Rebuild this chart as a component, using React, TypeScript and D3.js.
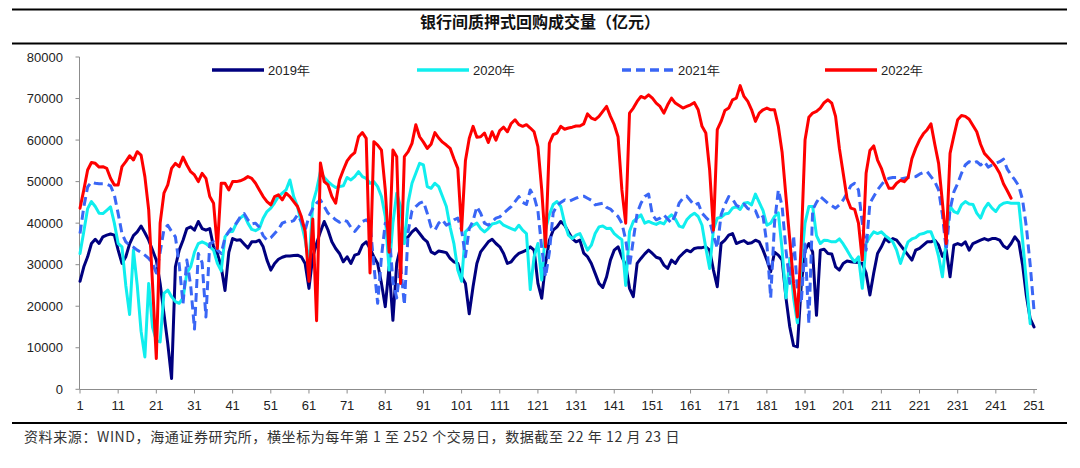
import { useMemo } from 'react';
import * as d3 from 'd3';

// 银行间质押式回购成交量（亿元）, 每年第 1 至 252 个交易日
const years = ['2019年', '2020年', '2021年', '2022年'];

const vol2019 = [
  26000, 29500, 31900, 35100, 36100, 35100, 36700, 37100, 37400, 37100,
  33500, 30300, 31900, 35000, 37000, 37900, 39300, 37700, 35900, 33500,
  31100, 25500, 18200, 11000, 2600, 29500, 33500, 35900, 38700, 39100,
  38300, 40400, 38700, 38300, 38700, 34300, 32700, 29500, 23800, 33000,
  36300, 35900, 36000, 35000, 34000, 35500, 35500, 35900, 34300, 31100,
  28700, 30300, 31300, 31800, 32100, 32100, 32200, 32300, 31900, 30300,
  24300, 31900, 35100, 37900, 40400, 38300, 35500, 33900, 32700, 30700,
  31900, 30300, 32300, 32600, 34700, 35500, 33900, 31900, 30300, 25500,
  19900, 29500, 16600, 30300, 34300, 36300, 36700, 37900, 38700, 37500,
  36300, 35500, 33100, 32600, 33300, 33100, 32900, 31500, 30700, 30300,
  27100, 25500, 18200, 24700, 30300, 33100, 34300, 35500, 36100, 35100,
  34300, 32700, 30300, 30700, 31900, 32700, 33100, 33500, 34300, 33500,
  25500, 21900, 30300, 35900, 38300, 39100, 40400, 39500, 37900, 36300,
  35500, 35900, 32800, 31900, 30300, 27900, 25500, 24500, 27100, 31100,
  33500, 34300, 31900, 29900, 24300, 22300, 30300, 31500, 32600, 33500,
  32700, 31800, 31500, 29900, 29100, 31100, 30300, 31800, 32700, 33500,
  33100, 33900, 34100, 34100, 34300, 33500, 28700, 24700, 35100, 35900,
  37100, 37500, 35100, 35500, 35800, 35100, 35300, 35900, 35500, 33500,
  31100, 28300, 33000, 32300, 31100, 22000, 15000, 10500, 10200, 25000,
  33500, 35100, 33000, 17800, 33500, 33700, 32700, 32600, 29500, 28700,
  30300, 30900, 30700, 30600, 30500, 30300, 28000, 22700, 28000, 32700,
  34300, 36300, 35500, 36300, 35900, 34700, 33500, 32300, 31100, 33500,
  33900, 34700, 35500, 35500, 35900, 34700, 32000, 33500, 27100, 34700,
  35100, 34700, 35500, 33500, 35100, 35500, 35900, 36300, 35900, 36300,
  36300, 35900, 34500, 33900, 35100, 36700, 35500, 30000, 22500, 17000,
  15000,
];

const vol2020 = [
  32700, 38000, 43500, 45200, 44000, 42400, 42300, 43100, 43900, 40000,
  35100, 34300, 25000, 18000, 33500, 25000, 14000, 7800, 25500, 15000,
  11800, 11400, 23100, 23900, 22300, 21100, 20700, 22000, 28000, 29500,
  33000, 35100, 35500, 35100, 34300, 33500, 30300, 28500, 36700, 37900,
  38000, 40000, 41200, 42000, 40000, 38500, 38200, 38700, 41200, 42800,
  43600, 44900, 46400, 47200, 48000, 50400, 46400, 44000, 40000, 36000,
  30000, 44800, 48000, 52400, 51000, 50000, 49200, 48600, 48800, 49000,
  51000, 50400, 51200, 52400, 51200, 50800, 49600, 50000, 48800, 46400,
  41600, 28700, 40000, 47200, 44000, 35100, 45000, 49600, 52000, 54400,
  54000, 48800, 48400, 49600, 48800, 46400, 44000, 39000, 35000, 28700,
  26000, 37900, 38800, 39500, 40000, 38700, 37900, 38700, 39800, 40000,
  40400, 39500, 39100, 38700, 38300, 39500, 38300, 37500, 24000, 31900,
  35100, 26300, 38500, 42000, 44500, 45200, 44000, 40000, 37100, 36300,
  37100, 37500, 35500, 33500, 34700, 37500, 39100, 39300, 38700, 38800,
  37500, 36700, 36000, 25000, 38000, 40400, 41200, 42000, 40000, 40400,
  40000, 39700, 40200, 39800, 41200, 42000, 41000, 39300, 39000, 40800,
  41800, 42400, 41600, 39500, 34000, 29100, 38500, 41200, 41400, 42200,
  42400, 43600, 44000, 43300, 44800, 45000, 44400, 47000, 45000, 43000,
  39500, 40000, 41600, 42500, 33500, 22000, 31500, 22000, 16000, 30300,
  40000, 44000, 44000, 37000, 35100, 35900, 35800, 35500, 35500, 36200,
  35000, 33500, 31900, 30700, 31900, 24300, 35100, 36700, 37900, 37500,
  37900, 37000, 36300, 35500, 33500, 30300, 33000, 35500, 36200, 36500,
  37300, 37500, 37900, 37900, 35500, 32000, 27100, 36000, 44000, 42800,
  42400, 44400, 45200, 44600, 44500, 42400, 41200, 43500, 44800, 43600,
  42800, 44200, 44800, 45000, 44800, 44800, 44800, 36000, 26000, 15800,
];

const vol2021 = [
  37500, 43900, 48700, 49900, 49600, 49500, 49500, 49400, 49000, 46800,
  42300, 37500, 35500, 34700, 34200, 33500, 33000, 32300, 31500, 30300,
  28000, 33000, 38500, 39500, 38000, 36700, 30000, 20600, 31100, 25000,
  14500, 32700, 30500, 17400, 35100, 35500, 33500, 32700, 36500, 38000,
  39100, 40000, 41500, 42300, 40800, 39800, 40000, 39000, 37000, 35900,
  36500, 37500, 38500, 40000, 40400, 40300, 40600, 42000, 40400, 38300,
  41600, 43500, 44800, 45600, 44000, 42400, 41600, 40800, 40200, 40800,
  40400, 39000, 38000, 39100, 40400, 40800, 40000, 30000, 20700, 31900,
  40000, 38000, 26000, 22000, 30000, 20300, 38000, 43000, 44000, 44800,
  45200, 42400, 39100, 38300, 40000, 40800, 39500, 40000, 40800, 41200,
  38300, 31900, 38700, 40500, 44000, 42400, 40000, 39500, 40400, 41200,
  41500, 42400, 43200, 44000, 45200, 46400, 45000, 44500, 48000, 46400,
  43000, 34000, 27100, 33000, 42500, 44200, 45000, 45600, 45200, 45600,
  46000, 46400, 46500, 46000, 45500, 44400, 44600, 44800, 43800, 43400,
  42400, 41600, 40000, 36000, 29500, 36000, 42400, 44800, 46400, 47000,
  42000, 40800, 41200, 42000, 41000, 40000, 42000, 44800, 46000, 46500,
  45400, 44300, 44800, 42400, 41400, 40500, 37000, 34000, 42000, 44500,
  46400, 45800, 44300, 43800, 44600, 43500, 43200, 43000, 40800, 41600,
  35000, 22000, 40000, 48000, 44000, 33500, 25500, 37000, 24000, 20700,
  35000, 15800, 43200, 45000, 46400, 45600, 44800, 44200, 43600, 44400,
  45600, 47200, 49000, 49600, 48000, 40000, 33500, 44800, 46400, 48000,
  49200, 50400, 50800, 51000, 51000, 50600, 50800, 51000, 51000, 51200,
  51800, 52200, 52400, 51200, 50000, 48000, 42000, 33500, 43200, 47500,
  49500, 52000, 54000, 54800, 54400, 54800, 54000, 54800, 53500, 54000,
  54400, 54800, 55400, 53000, 51600, 50400, 49000, 45600, 39100, 30000,
  19000,
];

const vol2022 = [
  43600, 48000, 52800, 54600, 54400, 53500, 53600, 53200, 50800, 49200,
  49200, 53600, 54800, 56200, 55200, 57200, 56400, 51200, 43200, 25500,
  7400, 40000, 47200, 49200, 53200, 54400, 53600, 55900, 54000, 52400,
  51600, 50000, 52000, 50800, 46400, 44800, 33900, 49600, 49600, 48000,
  50000, 50000, 50200, 50600, 51200, 50800, 49600, 48000, 46400, 45200,
  44400, 46400, 46800, 45600, 47200, 46400, 45200, 44000, 41600, 38000,
  26000, 41000, 16500, 54500, 50000, 49200, 46400, 44800, 50400, 52800,
  55000, 56200, 57000, 60800, 61800, 60400, 28000, 59600, 58800, 57600,
  48000, 33000, 57600, 56000, 25500, 56000, 57200, 59200, 63700, 60800,
  59500, 58000, 59000, 61800, 60500, 59500, 58800, 58000, 55500, 53200,
  38300, 55000, 60400, 63300, 60700, 60800, 61700, 59400, 62000, 60000,
  62300, 63100, 62000, 64000, 64900, 63700, 63300, 63700, 62900, 62000,
  58400, 48000, 34300, 59200, 61300, 61700, 63300, 62600, 62900, 63100,
  63400, 63400, 63900, 66300, 65300, 64900, 65700, 66900, 68100, 65700,
  63700, 60800, 48000, 40000, 66500, 67700, 69300, 70500, 70100, 70900,
  70100, 68900, 68100, 66500, 68500, 70100, 68900, 68300, 67700, 68100,
  68500, 69000, 67300, 63300, 61700, 52800, 38300, 62500, 64500, 67100,
  67700, 69700, 70100, 73100, 70500, 69300, 67300, 64500, 66500, 67300,
  67700, 67300, 67300, 63300, 57000, 46400, 36000, 25500, 17400, 35000,
  60000, 65500, 66500, 66900, 67700, 69000, 69700, 68900, 65700, 58000,
  52000, 46000, 43600, 43300, 40000, 31100, 52000, 57500, 58600, 55200,
  53200, 50400, 48400, 48400, 49600, 50300, 50000, 51000, 55500, 58000,
  60000, 61500, 62500, 63900, 59000, 54400, 45000, 35100, 56800, 61000,
  64900, 65900, 65700, 65000, 63500, 62000, 59000, 56800, 55800, 54800,
  53600, 52000, 49500, 47800, 46000,
];

const yTicks = [0, 10000, 20000, 30000, 40000, 50000, 60000, 70000, 80000];
const xTicks = [1, 11, 21, 31, 41, 51, 61, 71, 81, 91, 101, 111, 121, 131, 141, 151, 161, 171, 181, 191, 201, 211, 221, 231, 241, 251];

const W = 1080;
const H = 468;
const numFont = '"Liberation Sans", Arial, sans-serif';
const cjkFont = '"Noto Sans CJK SC", "Noto Sans", sans-serif';

const seriesStyle = [
  { color: '#00007f', dash: null },
  { color: '#10eeee', dash: null },
  { color: '#3a66f5', dash: '9,5' },
  { color: '#ff0000', dash: null },
];
const legendX = [212, 417, 622, 825];

export default function App() {
  const x = d3.scaleLinear().domain([1, 251]).range([80, 1034]);
  const y = d3.scaleLinear().domain([0, 80000]).range([389.3, 57]);

  const paths = useMemo(() => {
    const line = d3.line<number>()
      .x((_, i) => x(i + 1))
      .y(d => y(d))
      .curve(d3.curveLinear);
    return [vol2019, vol2020, vol2021, vol2022].map(s => line(s) || '');
  }, []);

  return (
    <div style={{ width: W, height: H }}>
      <style>{`body{margin:0}`}</style>
      <svg width={W} height={H} style={{ display: 'block', background: '#fff' }}>
        {/* header rules + title */}
        <line x1={12} x2={1067} y1={9.5} y2={9.5} stroke="#000" strokeWidth={2} />
        <line x1={12} x2={1067} y1={43.5} y2={43.5} stroke="#000" strokeWidth={2} />
        <text x={540} y={28} textAnchor="middle" fontFamily={cjkFont} fontWeight="bold"
          fontSize={16} fill="#111">银行间质押式回购成交量（亿元）</text>

        {/* y axis */}
        <line x1={79.5} x2={79.5} y1={y(80000)} y2={y(0)} stroke="#8c8c8c" strokeWidth={1} />
        {yTicks.map(t => (
          <g key={t}>
            <line x1={75.5} x2={79.5} y1={y(t)} y2={y(t)} stroke="#8c8c8c" />
            <text x={63} y={y(t) + 4.5} textAnchor="end" fontFamily={numFont} fontSize={13}
              fill="#222">{t}</text>
          </g>
        ))}

        {/* x axis */}
        <line x1={79.5} x2={1037} y1={389.5} y2={389.5} stroke="#8c8c8c" strokeWidth={1} />
        {xTicks.map(t => (
          <g key={t}>
            <line x1={x(t)} x2={x(t)} y1={389.5} y2={393.5} stroke="#8c8c8c" />
            <text x={x(t)} y={410} textAnchor="middle" fontFamily={numFont} fontSize={13}
              fill="#222">{t}</text>
          </g>
        ))}

        {/* series */}
        {paths.map((d, i) => (
          <path key={years[i]} d={d} fill="none" stroke={seriesStyle[i].color} strokeWidth={3}
            strokeLinejoin="round" strokeLinecap={seriesStyle[i].dash ? 'butt' : 'round'}
            strokeDasharray={seriesStyle[i].dash || undefined} />
        ))}

        {/* legend */}
        {years.map((label, i) => (
          <g key={label}>
            <line x1={legendX[i]} x2={legendX[i] + 52} y1={70} y2={70}
              stroke={seriesStyle[i].color} strokeWidth={3.5}
              strokeDasharray={seriesStyle[i].dash || undefined} />
            <text x={legendX[i] + 56} y={74.5} fontFamily={numFont} fontSize={13} fill="#222">
              {label}
            </text>
          </g>
        ))}

        {/* footer */}
        <line x1={12} x2={1067} y1={423} y2={423} stroke="#000" strokeWidth={2} />
        <text x={24} y={442} fontFamily={cjkFont} fontSize={14} letterSpacing={0.6} fill="#333">
          资料来源：WIND，海通证券研究所，横坐标为每年第 1 至 252 个交易日，数据截至 22 年 12 月 23 日
        </text>
      </svg>
    </div>
  );
}
